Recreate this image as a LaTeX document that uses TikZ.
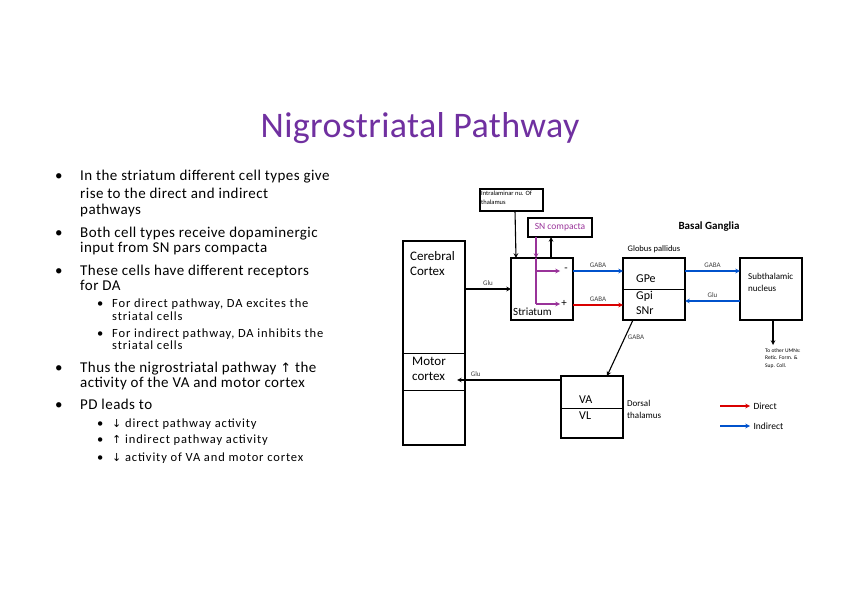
\documentclass[tikz,border=0pt]{standalone}
\usepackage{fontspec}
\setmainfont{Carlito}
\newfontfamily\djvs{DejaVu Sans}
\definecolor{ttl}{RGB}{112,48,160}
\begin{document}
\begin{tikzpicture}[x=1pt,y=-1pt,
 bx/.style={draw,line width=1.2pt},
 ar/.style={->,>=stealth,line width=1.1pt},
 lab/.style={font=\fontsize{7}{8}\selectfont,text=black!75},
 bl/.style={color=blue!60!cyan!80!black},
 rd/.style={color=red!85!black},
 pu/.style={color=violet!80},
 tx/.style={anchor=north west,inner sep=0pt,align=left},
 big/.style={anchor=base west,inner sep=0pt,font=\fontsize{15}{16}\selectfont\addfontfeature{LetterSpace=3}},
 sml/.style={anchor=base west,inner sep=0pt,font=\fontsize{12.5}{12}\selectfont\addfontfeature{LetterSpace=7}},
 ctr/.style={inner sep=0pt}]
\useasboundingbox (0,0) rectangle (842,596);
\node (title) at (420,128) {\fontsize{36}{38}\selectfont\addfontfeature{LetterSpace=1}\color{ttl}Nigrostriatal Pathway};
% main bullets
\node[big] (d1) at (55,180) {•};
\node[big] (l1a) at (80,180) {In the striatum different cell types give};
\node[big] (l1b) at (80,198) {rise to the direct and indirect};
\node[big] (l1c) at (80,214) {pathways};
\node[big] (d2) at (55,237) {•};
\node[big] (l2a) at (80,237) {Both cell types receive dopaminergic};
\node[big] (l2b) at (80,252) {input from SN pars compacta};
\node[big] (d3) at (55,275) {•};
\node[big] (l3a) at (80,275) {These cells have different receptors};
\node[big] (l3b) at (80,290) {for DA};
\node[sml] (d4) at (97,307) {•};
\node[sml] (l4a) at (112,307) {For direct pathway, DA excites the};
\node[sml] (l4b) at (112,320) {striatal cells};
\node[sml] (d5) at (97,337) {•};
\node[sml] (l5a) at (112,337) {For indirect pathway, DA inhibits the};
\node[sml] (l5b) at (112,349) {striatal cells};
\node[big] (d6) at (55,372) {•};
\node[big] (l6a) at (80,372) {Thus the nigrostriatal pathway {\djvs\fontsize{13}{13}\selectfont ↑} the};
\node[big] (l6b) at (80,387) {activity of the VA and motor cortex};
\node[big] (d7) at (55,409) {•};
\node[big] (l7) at (80,409) {PD leads to};
\node[sml] (d8) at (97,427) {•};
\node[sml] (l8) at (112,427) {{\djvs\fontsize{11}{11}\selectfont ↓} direct pathway activity};
\node[sml] (d9) at (97,443) {•};
\node[sml] (l9) at (112,443) {{\djvs\fontsize{11}{11}\selectfont ↑} indirect pathway activity};
\node[sml] (d10) at (97,461) {•};
\node[sml] (l10) at (112,461) {{\djvs\fontsize{11}{11}\selectfont ↓} activity of VA and motor cortex};
% boxes
\draw[bx] (403,241) rectangle (465,445);
\draw[line width=1pt] (403,353) -- (465,353) (403,390) -- (465,390);
\node[tx,font=\fontsize{13}{15}\selectfont] (cc) at (410,251) {Cerebral\\Cortex};
\node[tx,font=\fontsize{13}{15}\selectfont] (mc) at (412,357) {Motor\\cortex};
\coordinate (mcin) at (457,380);
\draw[bx] (511,258) rectangle (573,320);
\node[tx,font=\fontsize{11}{12}\selectfont] (st) at (513,308) {Striatum};
\draw[bx] (480,189) rectangle (543,211);
\node[tx,font=\fontsize{6.5}{8.5}\selectfont] (il) at (481,191) {Intralaminar nu. Of\\thalamus};
\draw[bx] (528,218) rectangle (592,237);
\node (sn) at (560,227.5) {\fontsize{9.5}{10}\selectfont\color{violet!80}SN compacta};
\node[anchor=west] (bg) at (675,227) {\fontsize{11}{12}\selectfont\bfseries Basal Ganglia};
\node (gpl) at (654,249) {\fontsize{8.5}{9}\selectfont Globus pallidus};
\draw[bx] (623,258) rectangle (685,320);
\draw[line width=1pt] (623,289) -- (685,289);
\node[ctr,anchor=west,font=\fontsize{12}{12}\selectfont] (gpe) at (636,279) {GPe};
\node[ctr,anchor=west,font=\fontsize{12}{12}\selectfont] (gpi) at (636,296) {Gpi};
\node[ctr,anchor=west,font=\fontsize{12}{12}\selectfont] (snr) at (636,311) {SNr};
\draw[bx] (740,258) rectangle (802,320);
\node[tx,font=\fontsize{9}{12}\selectfont] (stn) at (748,273) {Subthalamic\\nucleus};
\draw[bx] (561,376) rectangle (623,438);
\draw[line width=1pt] (561,408) -- (623,408);
\node[ctr,anchor=west,font=\fontsize{12}{12}\selectfont] (va) at (579,400) {VA};
\node[ctr,anchor=west,font=\fontsize{12}{12}\selectfont] (vl) at (579,416) {VL};
\node[tx,font=\fontsize{9}{12}\selectfont] (dt) at (627,400) {Dorsal\\thalamus};
\node[tx,font=\fontsize{5.5}{7.5}\selectfont] (umn) at (765,348) {To other UMNs:\\Retic. Form. \&\\Sup. Coll.};
% arrows
\draw[ar] (465,289) -- node[lab,above]{Glu} (511,289);
\draw[ar] (515,211) -- (516,258);
\draw[ar] (551,258) -- (551,237);
\draw[pu,line width=1.1pt,->,>=stealth] (536,237) -- (536,258);
\draw[pu,line width=1.1pt] (536,258) -- (536,304);
\draw[pu,line width=1.1pt,->,>=stealth] (536,271) -- (560,271);
\draw[pu,line width=1.1pt,->,>=stealth] (536,304) -- (560,304);
\node (mi) at (566,270) {\fontsize{11}{12}\selectfont -};
\node (pl) at (564,303) {\fontsize{11}{12}\selectfont +};
\draw[ar,bl] (573,271) -- node[lab,above]{GABA} (623,271);
\draw[ar,rd] (573,305) -- node[lab,above]{GABA} (623,305);
\draw[ar,bl] (685,271) -- node[lab,above]{GABA} (740,271);
\draw[ar,bl] (740,301) -- node[lab,above]{Glu} (685,301);
\draw[ar] (633,320) -- (607,376);
\node[lab] (ga) at (636,337) {GABA};
\draw[ar] (773,320) -- (773,345);
\draw[ar] (561,380) -- node[lab,above,pos=0.82]{Glu} (mcin);
\draw[ar,rd] (720,406) -- (750,406);
\node[anchor=west] (d) at (750,406) {\fontsize{9.5}{10}\selectfont Direct};
\draw[ar,bl] (720,426) -- (750,426);
\node[anchor=west] (i) at (750,426) {\fontsize{9.5}{10}\selectfont Indirect};
\end{tikzpicture}
\end{document}
